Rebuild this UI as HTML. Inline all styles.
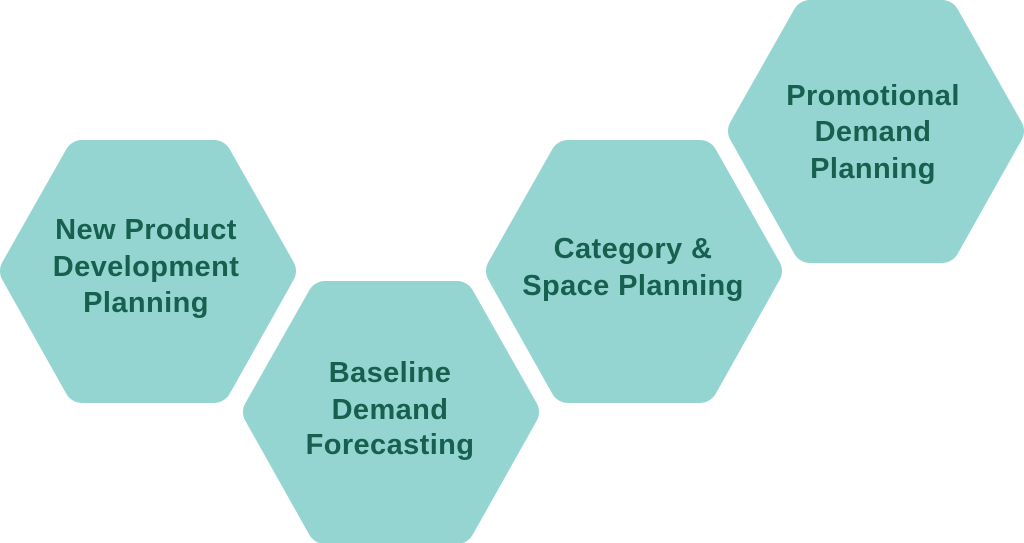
<!DOCTYPE html>
<html><head><meta charset="utf-8"><style>
html,body{margin:0;padding:0;background:#fff;width:1024px;height:543px;overflow:hidden}
text{font-family:"Liberation Sans",sans-serif;font-weight:bold;font-size:29px;fill:#17604f;text-anchor:middle;letter-spacing:0.4px}
</style></head><body>
<svg width="1024" height="543" viewBox="0 0 1024 543" xmlns="http://www.w3.org/2000/svg">
<defs>
<polygon id="hx" points="18,131 82,18 214,18 278,131 214,245 82,245" fill="#94d5d1" stroke="#94d5d1" stroke-width="36" stroke-linejoin="round"/>
</defs>
<g transform="translate(0,140)"><use href="#hx"/></g>
<g transform="translate(243,281)"><use href="#hx"/></g>
<g transform="translate(486,140)"><use href="#hx"/></g>
<g transform="translate(728,0)"><use href="#hx"/></g>
<text x="146" y="239">New Product</text>
<text x="146" y="276">Development</text>
<text x="146" y="312">Planning</text>
<text x="390" y="382">Baseline</text>
<text x="390" y="419">Demand</text>
<text x="390" y="454">Forecasting</text>
<text x="633" y="258">Category &amp;</text>
<text x="633" y="295">Space Planning</text>
<text x="873" y="105">Promotional</text>
<text x="873" y="141">Demand</text>
<text x="873" y="178">Planning</text>
</svg>
</body></html>
